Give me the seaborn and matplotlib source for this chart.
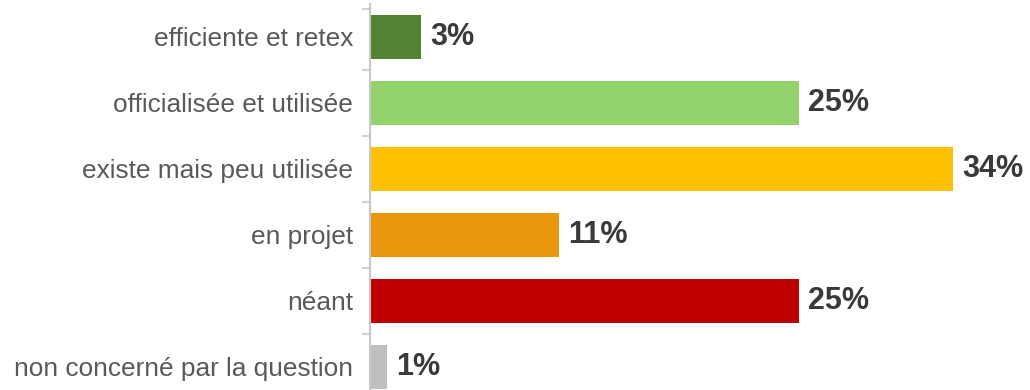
import matplotlib
matplotlib.use("Agg")
import matplotlib.pyplot as plt
import seaborn as sns
import pandas as pd
from matplotlib.ticker import FixedLocator

categories = [
    "efficiente et retex",
    "officialisée et utilisée",
    "existe mais peu utilisée",
    "en projet",
    "néant",
    "non concerné par la question",
]
values = [3, 25, 34, 11, 25, 1]
value_labels = ["3%", "25%", "34%", "11%", "25%", "1%"]
colors = ["#548235", "#92D36E", "#FFC000", "#E8970C", "#C00000", "#BFBFBF"]

sns.set_theme(style="white")
plt.rcParams["font.family"] = ["Liberation Sans", "DejaVu Sans"]

df = pd.DataFrame({"category": categories, "value": values})

W, H = 1030, 390
fig = plt.figure(figsize=(W / 100, H / 100), dpi=100)
left_px, right_px, top_px, bottom_px = 370, 1030, 4, 400
ax = fig.add_axes([left_px / W, 1 - bottom_px / H,
                   (right_px - left_px) / W, (bottom_px - top_px) / H])

sns.barplot(data=df, x="value", y="category", hue="category",
            palette=colors, legend=False, width=0.67, orient="h",
            saturation=1, ax=ax, linewidth=0)

ax.set_xlim(0, 38.48)
ax.set_ylim(len(categories) - 0.5, -0.5)
ax.set_xlabel("")
ax.set_ylabel("")
ax.set_xticks([])

for i, (v, lab) in enumerate(zip(values, value_labels)):
    ax.annotate(lab, xy=(v, i), xytext=(6.5, 0), textcoords="offset points",
                ha="left", va="center", fontsize=22, fontweight="bold",
                color="#3a3a3a")

for s in ["top", "right", "bottom"]:
    ax.spines[s].set_visible(False)
ax.spines["left"].set_color("#c8c8c8")
ax.spines["left"].set_linewidth(1.5)

ax.tick_params(axis="y", which="major", length=0, pad=12,
               labelsize=18.9, labelcolor="#595959")
ax.yaxis.set_minor_locator(FixedLocator([i - 0.5 for i in range(1, len(categories))] + [-0.42]))
ax.tick_params(axis="y", which="minor", length=6, width=1.2, color="#c8c8c8",
               left=True)

fig.savefig("out.png", dpi=100)
